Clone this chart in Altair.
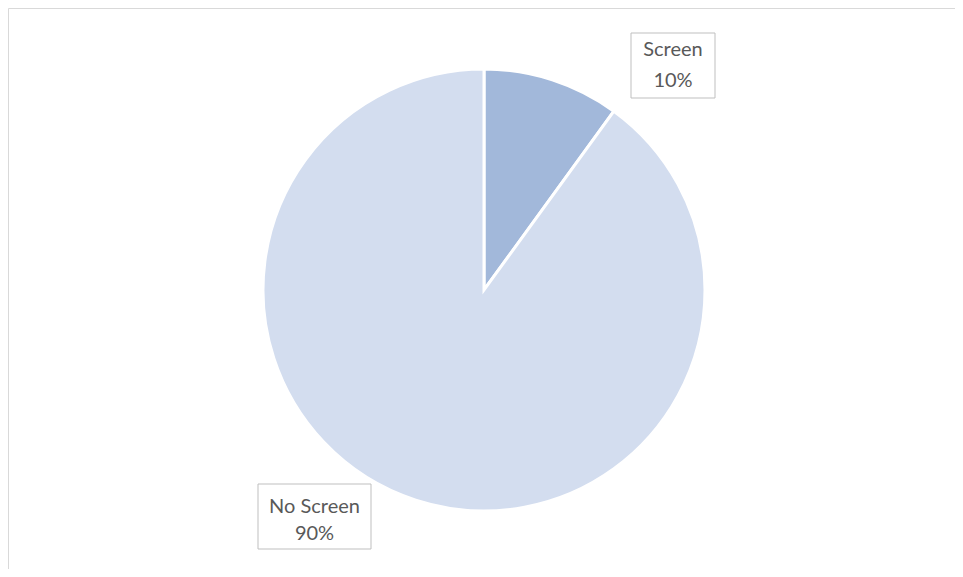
import altair as alt
import pandas as pd

categories = ["Screen", "No Screen"]
values = [10, 90]
labels = ["10%", "90%"]
colors = ["#a2b8da", "#d3ddef"]

df = pd.DataFrame({
    "category": categories,
    "value": values,
    "pct": labels,
    "order": list(range(len(categories))),
})

W, H = 947, 561
cx, cy, r = 476, 282, 221

base = alt.Chart(df)

pie = base.mark_arc(stroke="white", strokeWidth=3, radius=r).encode(
    theta=alt.Theta("value:Q", stack=True),
    order=alt.Order("order:Q"),
    color=alt.Color("category:N", scale=alt.Scale(domain=categories, range=colors), legend=None),
    x=alt.value(cx),
    y=alt.value(cy),
)

font = "Lato"
tcol = "#595959"
fs = 20

def label_layer(cat, x1, x2, y1, y2, ty1, ty2):
    sub = base.transform_filter(alt.datum.category == cat)
    box = sub.mark_rect(fill="white", stroke="#bfbfbf", strokeWidth=1).encode(
        x=alt.value(x1), x2=alt.value(x2), y=alt.value(y1), y2=alt.value(y2)
    )
    t1 = sub.mark_text(font=font, fontSize=fs, color=tcol, baseline="middle").encode(
        text="category:N", x=alt.value((x1 + x2) / 2), y=alt.value(ty1)
    )
    t2 = sub.mark_text(font=font, fontSize=fs, color=tcol, baseline="middle").encode(
        text="pct:N", x=alt.value((x1 + x2) / 2), y=alt.value(ty2)
    )
    return box + t1 + t2

lab1 = label_layer("Screen", 623, 707, 25, 90, 42, 73)
lab2 = label_layer("No Screen", 250, 363, 476, 541, 499, 526)

chart = alt.layer(pie, lab1, lab2).properties(
    width=W, height=H, padding=0,
    autosize=alt.AutoSizeParams(type="none"),
).configure_view(stroke="#d9d9d9", strokeWidth=1)

chart.save("out.html", embed_options={"renderer": "svg", "actions": False})
